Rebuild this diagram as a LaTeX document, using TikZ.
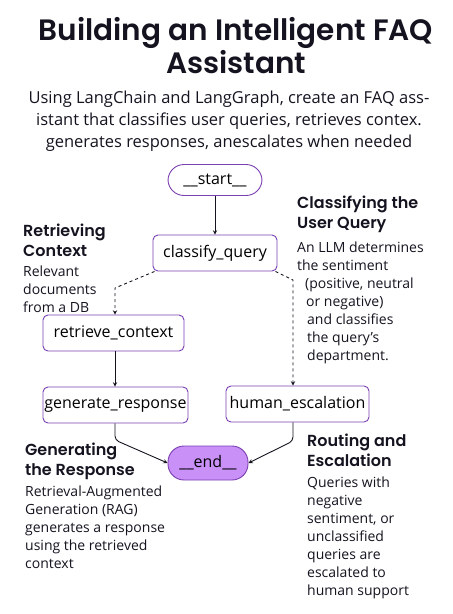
\documentclass[tikz,border=0pt]{standalone}
\usepackage{fontspec}
\setmainfont{Open Sans}
\newfontfamily\headfont{Poppins}[BoldFont={* SemiBold}]
\usepackage{tikz}
\usetikzlibrary{positioning,arrows,calc}
\definecolor{nodeline}{HTML}{7A3FB0}
\definecolor{endfill}{HTML}{C990F8}
\definecolor{ink}{HTML}{15131F}

\begin{document}
\begin{tikzpicture}[x=1pt,y=-1pt,
	step box/.style={draw=nodeline,line width=0.9pt,rounded corners=5pt,fill=white,inner sep=0pt,minimum height=36pt,font=\fontsize{16}{19}\selectfont},
	pill/.style={step box,rounded corners=16pt,minimum height=31pt},
	flow/.style={->,>=stealth,line width=0.9pt,ink},
	heading/.style={anchor=base west,inner sep=0pt,align=left,text=ink,font=\headfont\bfseries\fontsize{16}{19.5}\selectfont},
	blurb/.style={anchor=base west,inner sep=0pt,align=left,text=ink,font=\fontsize{14}{18}\selectfont}]
			\useasboundingbox (0,0) rectangle (453,614);
			% text blocks are placed by the baseline of their last line
			\node[anchor=base,inner sep=0pt,align=center,text=ink,font=\headfont\bfseries\fontsize{29.5}{33}\selectfont] (title) at (236,73) {Building an Intelligent FAQ\\Assistant};
			\node[anchor=base,inner sep=0pt,align=center,text=ink,font=\fontsize{16.5}{22}\selectfont] (sub) at (229,147) {Using LangChain and LangGraph, create an FAQ ass-\\istant that classifies user queries, retrieves contex.\\generates responses, anescalates when needed};
			
			\node[pill,minimum width=94pt] (start) at (215,180) {\_\_start\_\_};
			\node[step box,minimum width=124pt] (classify) at (215,253) {classify\_query};
			\node[step box,minimum width=141pt] (retrieve) at (113.5,333) {retrieve\_context};
			\node[step box,minimum width=145pt] (generate) at (115.5,405) {generate\_response};
			\node[step box,minimum width=143pt] (human) at (297.5,404) {human\_escalation};
			\node[pill,fill=endfill,minimum width=80pt,minimum height=34pt] (end) at (208,463) {\_\_end\_\_};
			
			\coordinate (rbend) at (115,288);
			\coordinate (hbend) at (293,280);
			\coordinate (gbend) at (115,440);
			\coordinate (ebend) at (293,441);
			\path[flow](start) edge (classify);
			\draw[flow,dashed] ([xshift=2pt]classify.south west) -- (rbend) -- (rbend |- retrieve.north);
			\draw[flow,dashed] ([xshift=-2pt]classify.south east) -- (hbend) -- (hbend |- human.north);
			\draw[flow] (retrieve.south -| rbend) -- (rbend |- generate.north);
			\draw[flow,rounded corners=4pt] (generate.south -| gbend) -- (gbend) -- (end.west);
			\draw[flow,rounded corners=4pt] (human.south -| ebend) -- (ebend) -- (end.east);
			
			\node[heading] (ctitle) at (297,228) {Classifying the\\User Query};
			\node[blurb] (ctext) at (297,360) {An LLM determines\\the sentiment\\\hspace*{8pt}(positive, neutral\\\hspace*{9pt}or negative)\\\hspace*{10pt}and classifies\\\hspace*{10pt}the query\char"0027 s\\\hspace*{10pt}department.};
			\node[heading] (rtitle) at (23,256) {Retrieving\\Context};
			\node[blurb] (rtext) at (23,312) {Relevant\\documents\\from a DB};
			\node[heading] (gtitle) at (25,475) {Generating\\the Response};
			\node[blurb] (gtext) at (25,568) {Retrieval-Augmented\\Generation (RAG)\\generates a response\\using the retrieved\\context};
			\node[heading] (etitle) at (307,466) {Routing and\\Escalation};
			\node[blurb] (etext) at (307,595) {Queries with\\negative\\sentiment, or\\unclassified\\queries are\\escalated to\\human support};
			\end{tikzpicture}
\end{document}
